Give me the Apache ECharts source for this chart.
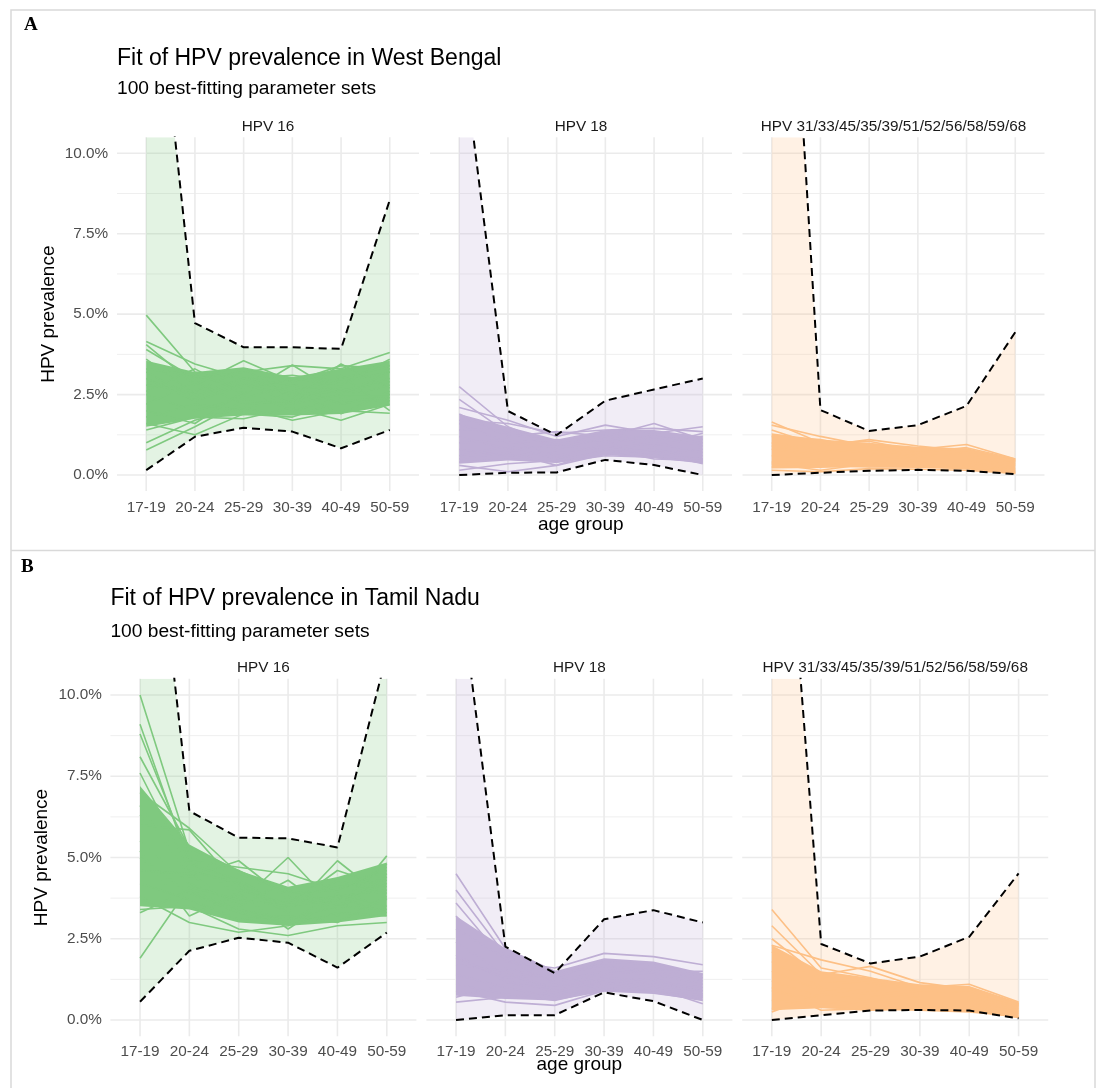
<!DOCTYPE html>
<html><head><meta charset="utf-8">
<script src="https://cdn.jsdelivr.net/npm/echarts@6/dist/echarts.min.js"></script>
<style>html,body{margin:0;padding:0;background:#fff}#chart{width:1099px;height:1088px}</style>
</head><body><div id="chart"></div>
<script>
// ---------- data (values in %) ----------
const ageGroups = ['17-19', '20-24', '25-29', '30-39', '40-49', '50-59'];
const yMajorTicks = [0, 2.5, 5, 7.5, 10];
const yMinorTicks = [1.25, 3.75, 6.25, 8.75];
const facetTitles = ['HPV 16', 'HPV 18', 'HPV 31/33/45/35/39/51/52/56/58/59/68'];
const panelTitles = ['Fit of HPV prevalence in West Bengal', 'Fit of HPV prevalence in Tamil Nadu'];
const panelSubtitle = '100 best-fitting parameter sets';
const panelLetters = ['A', 'B'];

// West Bengal
const wb16Upper = [18.8, 4.72, 3.97, 3.97, 3.92, 8.55];
const wb16Lower = [0.15, 1.19, 1.47, 1.35, 0.83, 1.40];
const wb16CoreLo = [1.5, 1.75, 1.85, 1.85, 1.9, 2.15];
const wb16CoreHi = [3.55, 3.2, 3.35, 3.05, 3.3, 3.55];
const wb16Fits = [
  [4.97, 3.2, 3.0, 2.8, 2.6, 2.9],
  [4.15, 3.45, 3.0, 3.1, 2.9, 3.2],
  [4.05, 2.8, 3.55, 2.9, 3.4, 3.3],
  [3.9, 3.0, 3.2, 3.4, 3.3, 3.81],
  [3.6, 2.5, 3.0, 2.6, 3.0, 3.4],
  [3.3, 3.1, 2.7, 3.0, 2.8, 3.6],
  [3.0, 2.3, 2.8, 2.5, 2.6, 3.0],
  [2.8, 2.6, 3.3, 2.4, 3.45, 2.7],
  [2.5, 2.0, 2.4, 2.8, 2.2, 2.5],
  [2.2, 2.9, 2.2, 2.3, 2.7, 2.3],
  [2.0, 1.6, 2.6, 2.0, 2.4, 2.8],
  [1.8, 2.2, 2.0, 2.6, 1.9, 2.6],
  [1.6, 1.25, 1.9, 1.8, 2.3, 2.4],
  [1.4, 1.8, 1.75, 2.1, 1.7, 2.2],
  [1.0, 1.7, 2.1, 1.7, 2.0, 1.92],
  [0.78, 1.5, 2.3, 2.2, 2.5, 2.5],
  [2.6, 3.3, 2.5, 3.42, 2.5, 3.2],
  [3.2, 2.4, 2.9, 2.2, 3.1, 2.0]
];
const wb18Upper = [14.0, 1.99, 1.24, 2.31, 2.66, 3.0];
const wb18Lower = [0.0, 0.07, 0.08, 0.47, 0.31, 0.0];
const wb18CoreLo = [0.35, 0.45, 0.38, 0.62, 0.52, 0.36];
const wb18CoreHi = [1.9, 1.5, 1.1, 1.4, 1.4, 1.2];
const wb18Fits = [
  [2.75, 1.5, 0.9, 1.1, 1.2, 1.0],
  [2.35, 1.3, 1.0, 1.3, 1.1, 1.2],
  [2.1, 1.7, 1.2, 1.55, 1.3, 1.5],
  [1.9, 1.2, 1.35, 1.2, 1.6, 1.1],
  [1.6, 1.0, 1.1, 1.0, 1.2, 0.9],
  [1.4, 1.45, 0.8, 1.2, 0.9, 1.3],
  [1.2, 0.8, 0.9, 0.8, 1.0, 0.7],
  [1.0, 1.1, 0.6, 0.9, 0.7, 0.8],
  [0.8, 0.6, 0.7, 0.7, 0.8, 0.5],
  [0.6, 0.9, 0.5, 1.0, 0.6, 0.6],
  [0.4, 0.5, 0.4, 0.6, 0.55, 0.4],
  [0.3, 0.1, 0.3, 0.65, 0.7, 0.35],
  [0.15, 0.35, 0.45, 0.75, 0.6, 0.5],
  [1.7, 1.6, 1.3, 1.4, 1.45, 1.35],
  [0.5, 0.7, 0.3, 0.8, 0.5, 0.45]
];
const wbOthUpper = [26.6, 2.02, 1.37, 1.55, 2.15, 4.44];
const wbOthLower = [0.0, 0.07, 0.13, 0.16, 0.13, 0.03];
const wbOthCoreLo = [0.2, 0.22, 0.26, 0.22, 0.2, 0.05];
const wbOthCoreHi = [1.3, 1.1, 1.0, 0.88, 0.83, 0.5];
const wbOthFits = [
  [1.65, 1.0, 1.05, 0.75, 0.8, 0.45],
  [1.55, 1.2, 0.9, 0.8, 0.95, 0.5],
  [1.4, 0.9, 1.1, 0.9, 0.75, 0.4],
  [1.2, 1.1, 0.8, 0.7, 0.85, 0.5],
  [1.0, 0.8, 0.7, 0.6, 0.6, 0.35],
  [0.8, 0.6, 0.6, 0.5, 0.5, 0.3],
  [0.6, 0.5, 0.45, 0.4, 0.4, 0.2],
  [0.4, 0.35, 0.3, 0.3, 0.3, 0.15],
  [0.25, 0.3, 0.25, 0.25, 0.2, 0.08],
  [0.15, 0.1, 0.2, 0.18, 0.15, 0.05],
  [0.35, 0.15, 0.35, 0.4, 0.25, 0.1],
  [0.9, 0.7, 0.85, 0.55, 0.7, 0.45]
];

// Tamil Nadu
const tn16Upper = [19.8, 6.43, 5.61, 5.59, 5.31, 11.26];
const tn16Lower = [0.56, 2.13, 2.53, 2.38, 1.61, 2.69];
const tn16CoreLo = [3.5, 3.4, 3.0, 2.9, 3.0, 3.2];
const tn16CoreHi = [7.2, 5.4, 4.6, 4.1, 4.4, 4.85];
const tn16Fits = [
  [10.0, 5.2, 4.0, 3.6, 3.8, 4.0],
  [9.1, 4.8, 4.3, 3.5, 3.7, 4.2],
  [8.8, 5.0, 3.8, 3.8, 3.5, 4.5],
  [8.1, 5.3, 4.6, 3.9, 4.0, 4.6],
  [7.6, 4.6, 4.2, 3.4, 4.3, 3.9],
  [7.0, 5.9, 4.5, 4.0, 3.6, 4.8],
  [6.6, 4.4, 4.9, 3.7, 4.1, 4.3],
  [6.0, 5.85, 4.1, 3.3, 4.9, 3.7],
  [5.5, 4.2, 3.6, 5.0, 3.4, 4.4],
  [5.0, 3.9, 3.3, 3.0, 3.9, 3.5],
  [4.6, 4.5, 3.5, 4.3, 3.2, 5.05],
  [4.2, 3.7, 3.1, 3.2, 3.0, 3.8],
  [3.8, 3.0, 2.7, 2.9, 3.3, 3.2],
  [3.4, 3.5, 2.8, 2.6, 2.9, 3.0],
  [3.3, 4.0, 3.4, 3.1, 3.5, 3.4],
  [1.9, 4.1, 3.7, 3.5, 4.6, 4.1],
  [6.3, 4.9, 4.7, 4.5, 4.0, 4.7],
  [5.2, 3.2, 3.9, 2.8, 3.8, 3.3]
];
const tn18Upper = [14.3, 2.26, 1.44, 3.1, 3.38, 3.0];
const tn18Lower = [0.0, 0.15, 0.15, 0.85, 0.58, 0.0];
const tn18CoreLo = [0.75, 0.65, 0.6, 0.87, 0.8, 0.6];
const tn18CoreHi = [3.2, 2.2, 1.5, 1.9, 1.8, 1.45];
const tn18Fits = [
  [4.5, 2.2, 1.5, 1.6, 1.5, 1.2],
  [4.0, 2.0, 1.3, 1.8, 1.7, 1.4],
  [3.6, 1.8, 1.6, 2.05, 1.95, 1.7],
  [3.2, 1.6, 1.2, 1.5, 1.4, 1.1],
  [2.8, 1.9, 1.1, 1.4, 1.6, 1.3],
  [2.4, 1.4, 1.0, 1.3, 1.2, 1.0],
  [2.0, 1.2, 0.9, 1.2, 1.1, 0.9],
  [1.7, 1.5, 0.8, 1.1, 1.3, 0.8],
  [1.4, 1.0, 0.7, 1.0, 0.9, 0.7],
  [1.1, 0.8, 0.6, 0.95, 0.85, 0.6],
  [0.9, 0.55, 0.45, 0.9, 1.0, 0.5],
  [0.7, 1.1, 1.0, 1.15, 0.95, 0.75],
  [0.55, 0.7, 0.85, 1.25, 1.05, 0.9],
  [1.9, 1.3, 1.4, 1.7, 1.5, 1.5]
];
const tnOthUpper = [21.9, 2.34, 1.74, 1.95, 2.56, 4.51];
const tnOthLower = [0.0, 0.15, 0.29, 0.31, 0.29, 0.05];
const tnOthCoreLo = [0.3, 0.36, 0.31, 0.31, 0.26, 0.06];
const tnOthCoreHi = [2.3, 1.5, 1.3, 1.1, 1.05, 0.55];
const tnOthFits = [
  [3.4, 1.6, 1.3, 0.9, 0.85, 0.45],
  [2.3, 1.85, 1.5, 1.0, 0.9, 0.5],
  [2.9, 1.4, 1.65, 1.15, 0.95, 0.5],
  [2.5, 1.3, 1.2, 1.0, 1.1, 0.55],
  [2.1, 1.2, 1.1, 0.9, 0.9, 0.45],
  [1.8, 1.0, 0.9, 0.8, 0.8, 0.4],
  [1.5, 0.9, 0.8, 0.7, 0.7, 0.35],
  [1.2, 0.7, 0.7, 0.6, 0.6, 0.3],
  [0.9, 0.6, 0.5, 0.5, 0.5, 0.25],
  [0.6, 0.5, 0.4, 0.4, 0.4, 0.2],
  [0.35, 0.4, 0.3, 0.35, 0.3, 0.1],
  [0.25, 0.8, 0.6, 0.45, 0.3, 0.08],
  [1.0, 0.3, 0.35, 0.3, 0.25, 0.12]
];

// ---------- styling / layout ----------
const FONT = "'Liberation Sans', Arial, Helvetica, sans-serif";
const lineColors = ['#7fc97f', '#beaed4', '#fdc086'];
const fillColors = ['rgba(127,201,127,0.22)', 'rgba(190,174,212,0.22)', 'rgba(253,192,134,0.22)'];

const facets = [
  {up: wb16Upper, lo: wb16Lower, cLo: wb16CoreLo, cHi: wb16CoreHi, fits: wb16Fits},
  {up: wb18Upper, lo: wb18Lower, cLo: wb18CoreLo, cHi: wb18CoreHi, fits: wb18Fits},
  {up: wbOthUpper, lo: wbOthLower, cLo: wbOthCoreLo, cHi: wbOthCoreHi, fits: wbOthFits},
  {up: tn16Upper, lo: tn16Lower, cLo: tn16CoreLo, cHi: tn16CoreHi, fits: tn16Fits},
  {up: tn18Upper, lo: tn18Lower, cLo: tn18CoreLo, cHi: tn18CoreHi, fits: tn18Fits},
  {up: tnOthUpper, lo: tnOthLower, cLo: tnOthCoreLo, cHi: tnOthCoreHi, fits: tnOthFits}
];

const rows = [
  {top: 137.2, height: 353.9, lefts: [117, 430, 742.5], width: 302,
   letterX: 24, letterY: 25.5, titleY: 58.5, subY: 89, stripY: 127, yTitleX: 49, xTitleY: 524.5},
  {top: 678.75, height: 357.5, lefts: [110.4, 426.4, 742.2], width: 306,
   letterX: 21, letterY: 567, titleY: 598.5, subY: 631.5, stripY: 668, yTitleX: 42, xTitleY: 1064.5}
];

const grids = [], xAxes = [], yAxes = [], series = [], graphics = [];
const xIdx = ageGroups.map((_, k) => k);

graphics.push({type: 'rect', shape: {x: 11, y: 10, width: 1084, height: 1100},
  style: {fill: 'none', stroke: '#d9d9d9', lineWidth: 1.5}, silent: true});
graphics.push({type: 'line', shape: {x1: 11, y1: 550.5, x2: 1095, y2: 550.5},
  style: {stroke: '#d9d9d9', lineWidth: 1.5}, silent: true});

// filled band between two bound arrays, drawn as one polygon through the axes
function bandSeries(gi, lo, hi, color, z) {
  return {
    type: 'custom', xAxisIndex: gi, yAxisIndex: gi, z: z, silent: true, animation: false, clip: true,
    data: xIdx.map(k => [k, lo[k], hi[k]]),
    renderItem: function (params, api) {
      if (params.dataIndexInside !== 0) return null;
      const n = params.dataInsideLength;
      const pts = [];
      for (let i = 0; i < n; i++) pts.push(api.coord([api.value(0, i), api.value(1, i)]));
      for (let i = n - 1; i >= 0; i--) pts.push(api.coord([api.value(0, i), api.value(2, i)]));
      const cs = params.coordSys;
      return {
        type: 'polygon', shape: {points: pts}, style: {fill: color},
        clipPath: {type: 'rect', shape: {x: cs.x, y: cs.y, width: cs.width, height: cs.height}}
      };
    }
  };
}

rows.forEach((r, ri) => {
  graphics.push({type: 'text', x: r.letterX, y: r.letterY, style: {text: panelLetters[ri],
    font: "bold 19px 'Liberation Serif', 'Times New Roman', serif", fill: '#000',
    textAlign: 'left', textVerticalAlign: 'middle'}});
  graphics.push({type: 'text', x: r.lefts[0], y: r.titleY, style: {text: panelTitles[ri],
    font: '23px ' + FONT, fill: '#000', textAlign: 'left', textVerticalAlign: 'middle'}});
  graphics.push({type: 'text', x: r.lefts[0], y: r.subY, style: {text: panelSubtitle,
    font: '19.2px ' + FONT, fill: '#000', textAlign: 'left', textVerticalAlign: 'middle'}});
  const midY = r.top + r.height / 2;
  graphics.push({type: 'text', x: r.yTitleX, y: midY, rotation: Math.PI / 2, style: {text: 'HPV prevalence',
    font: '19px ' + FONT, fill: '#000', textAlign: 'center', textVerticalAlign: 'middle'}});
  const midX = (r.lefts[0] + r.lefts[2] + r.width) / 2;
  graphics.push({type: 'text', x: midX, y: r.xTitleY, style: {text: 'age group',
    font: '19px ' + FONT, fill: '#000', textAlign: 'center', textVerticalAlign: 'middle'}});

  for (let c = 0; c < 3; c++) {
    const gi = ri * 3 + c;
    const f = facets[gi];
    graphics.push({type: 'text', x: r.lefts[c] + r.width / 2, y: r.stripY, style: {text: facetTitles[c],
      font: '15.3px ' + FONT, fill: '#1a1a1a', textAlign: 'center', textVerticalAlign: 'middle'}});
    grids.push({left: r.lefts[c], top: r.top, width: r.width, height: r.height, containLabel: false});
    xAxes.push({gridIndex: gi, type: 'value', min: -0.6, max: 5.6,
      axisLine: {show: false}, axisTick: {show: false}, splitLine: {show: false},
      axisLabel: {customValues: xIdx, formatter: v => ageGroups[Math.round(v)],
        color: '#4d4d4d', fontSize: 15.3, fontFamily: FONT, margin: ri === 0 ? 9 : 8}});
    yAxes.push({gridIndex: gi, type: 'value', min: -0.5, max: 10.5,
      axisLine: {show: false}, axisTick: {show: false}, splitLine: {show: false},
      axisLabel: {show: c === 0, customValues: yMajorTicks, formatter: v => v.toFixed(1) + '%',
        color: '#4d4d4d', fontSize: 15.3, fontFamily: FONT, margin: ri === 0 ? 9 : 8.5}});
    const base = {type: 'line', xAxisIndex: gi, yAxisIndex: gi, symbol: 'none', silent: true, animation: false};
    // grid lines
    yMajorTicks.forEach(v => series.push(Object.assign({}, base, {z: 1,
      data: [[-0.6, v], [5.6, v]], lineStyle: {color: '#ebebeb', width: 1.6}})));
    yMinorTicks.forEach(v => series.push(Object.assign({}, base, {z: 1,
      data: [[-0.6, v], [5.6, v]], lineStyle: {color: '#ebebeb', width: 0.8}})));
    xIdx.forEach(k => series.push(Object.assign({}, base, {z: 1,
      data: [[k, -0.5], [k, 10.5]], lineStyle: {color: '#ebebeb', width: 1.6}})));
    // ribbon between bounds
    series.push(bandSeries(gi, f.lo, f.up, fillColors[c], 2));
    // dense core of fitted curves
    series.push(bandSeries(gi, f.cLo, f.cHi, lineColors[c], 3));
    // fitted curves
    f.fits.forEach(fit => series.push(Object.assign({}, base, {z: 3,
      data: xIdx.map(k => [k, fit[k]]), lineStyle: {color: lineColors[c], width: 1.6}})));
    // dashed bounds
    [f.up, f.lo].forEach(b => series.push(Object.assign({}, base, {z: 4,
      data: xIdx.map(k => [k, b[k]]), lineStyle: {color: '#000', width: 2, type: [8, 5]}})));
  }
});

const chart = echarts.init(document.getElementById('chart'), null, {renderer: 'canvas'});
chart.setOption({
  animation: false,
  backgroundColor: '#fff',
  grid: grids, xAxis: xAxes, yAxis: yAxes, series: series,
  graphic: {elements: graphics}
});
</script></body></html>
